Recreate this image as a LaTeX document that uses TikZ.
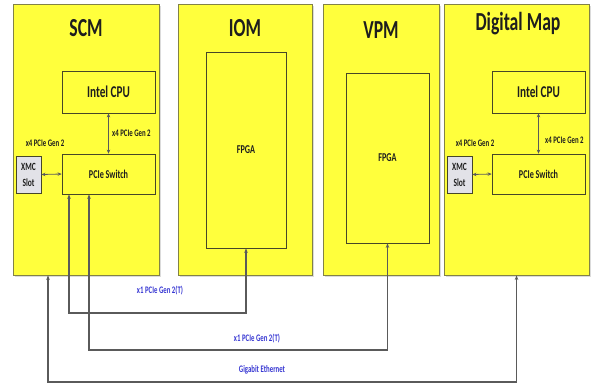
\documentclass[tikz,border=0pt]{standalone}
\usepackage{fontspec}
\setmainfont{Carlito}
\usepackage{graphicx}
\usetikzlibrary{arrows.meta}
\definecolor{panelfill}{RGB}{255,255,60}
\definecolor{panelline}{RGB}{130,130,70}
\definecolor{boxline}{RGB}{70,70,40}
\definecolor{slotfill}{RGB}{226,226,232}
\definecolor{linkgray}{RGB}{90,90,90}
\definecolor{linkblue}{RGB}{55,55,210}
\definecolor{inktext}{RGB}{30,30,30}
% condensed lettering
\newcommand{\nar}[1]{\scalebox{0.68}[1]{#1}}
\tikzset{
  panel/.style={draw=panelline, line width=0.9pt, fill=panelfill, minimum width=#1, minimum height=271pt, inner sep=0pt},
  unit/.style={draw=boxline, line width=0.8pt, fill=panelfill, inner sep=0pt, text=inktext,
               font=\fontsize{12}{14}\selectfont\bfseries},
  slot/.style={draw=boxline, line width=0.8pt, fill=slotfill, minimum width=25pt, minimum height=37pt,
               inner sep=0pt, align=center, text=inktext, font=\fontsize{11}{16}\selectfont\bfseries},
  title/.style={text=inktext, font=\fontsize{26}{28}\selectfont\bfseries, inner sep=0pt},
  lane/.style={text=inktext, font=\fontsize{10}{12}\selectfont\bfseries, inner sep=0pt},
  buslabel/.style={text=linkblue, font=\fontsize{10}{12}\selectfont\bfseries, inner sep=0pt},
  biarrow/.style={draw=linkgray, line width=0.8pt, {Stealth[length=4pt,width=3.5pt]}-{Stealth[length=4pt,width=3.5pt]}},
  link/.style={draw=linkgray, line width=1.1pt, {Stealth[length=4.5pt,width=3.5pt]}-{Stealth[length=4.5pt,width=3.5pt]}}
}
\begin{document}
\begin{tikzpicture}[x=1pt,y=-1pt]
\useasboundingbox (0,0) rectangle (591,386);

% soft shadows behind the four modules
\foreach \cx/\w in {86/146,245/134,381/116,516.5/145}
  \fill[black!14] (\cx-\w/2+1.5,5.5) rectangle (\cx+\w/2+1.5,276.5);

% modules
\node[panel=146pt] (scm) at (86,139.5) {};
\node[panel=134pt] (iom) at (245,139.5) {};
\node[panel=116pt] (vpm) at (381,139.5) {};
\node[panel=145pt] (dmap) at (516.5,139.5) {};

\node[title] (tscm) at (86,28) {\nar{SCM}};
\node[title] (tiom) at (245,28) {\nar{IOM}};
\node[title] (tvpm) at (381,30) {\nar{VPM}};
\node[title] (tdmap) at (518,24) {\nar{Digital Map}};

% SCM contents
\node[unit, minimum width=93pt, minimum height=42pt, font=\fontsize{16.5}{18}\selectfont\bfseries] (cpu1) at (108.5,92) {\nar{Intel CPU}};
\node[unit, minimum width=93pt, minimum height=40pt] (sw1) at (108.5,174) {\nar{PCIe Switch}};
\node[slot] (xmc1) at (28.5,174.5) {\nar{XMC}\\\nar{Slot}};
\draw[biarrow] (cpu1.south) -- (sw1.north);
\draw[biarrow] (xmc1.east) -- (sw1.west);
\node[lane, anchor=west] (l1a) at (112,133) {\nar{x4 PCIe Gen 2}};
\node[lane] (l1b) at (45,143) {\nar{x4 PCIe Gen 2}};

% IOM and VPM contents
\node[unit, minimum width=80pt, minimum height=196pt] (fpga1) at (246,150) {\nar{FPGA}};
\node[unit, minimum width=83pt, minimum height=170pt] (fpga2) at (387.5,158) {\nar{FPGA}};

% Digital Map contents
\node[unit, minimum width=93pt, minimum height=42pt, font=\fontsize{16.5}{18}\selectfont\bfseries] (cpu2) at (538.5,92) {\nar{Intel CPU}};
\node[unit, minimum width=93pt, minimum height=40pt] (sw2) at (538.5,174) {\nar{PCIe Switch}};
\node[slot] (xmc2) at (459.5,174.5) {\nar{XMC}\\\nar{Slot}};
\draw[biarrow] (cpu2.south) -- (sw2.north);
\draw[biarrow] (xmc2.east) -- (sw2.west);
\node[lane, anchor=west] (l2a) at (545,140) {\nar{x4 PCIe Gen 2}};
\node[lane] (l2b) at (475,143) {\nar{x4 PCIe Gen 2}};

% inter-module links
\coordinate (k1) at (69,313);
\coordinate (k2) at (89,350);
\coordinate (k3) at (48,382);
\draw[link] (sw1.south -| k1) -- (k1) -| (fpga1.south);
\draw[link] (sw1.south -| k2) -- (k2) -| (fpga2.south);
\draw[link] (scm.south -| k3) -- (k3) -| (dmap.south);

\node[buslabel] (b1) at (160,291) {\nar{x1 PCIe Gen 2(T)}};
\node[buslabel] (b2) at (257,339) {\nar{x1 PCIe Gen 2(T)}};
\node[buslabel] (b3) at (262,370) {\nar{Gigabit Ethernet}};
\end{tikzpicture}
\end{document}
